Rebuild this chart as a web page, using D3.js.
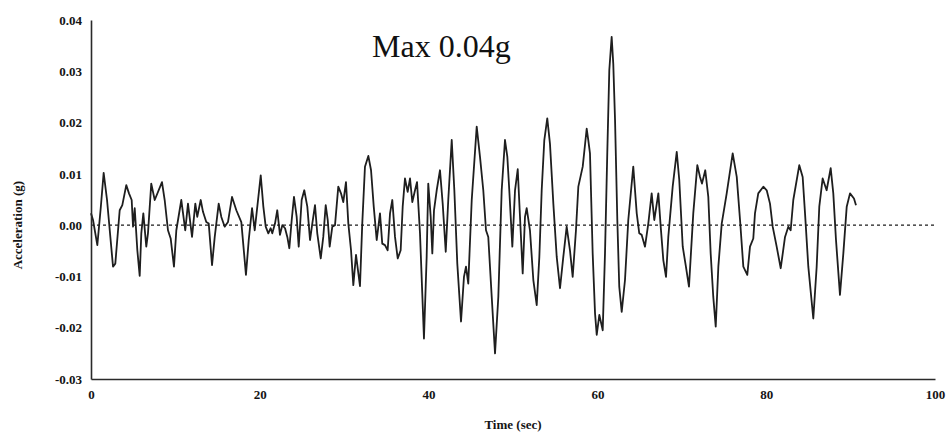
<!DOCTYPE html>
<html>
<head>
<meta charset="utf-8">
<script src="https://cdn.jsdelivr.net/npm/d3@7"></script>
<style>
  html, body { margin: 0; padding: 0; background: #ffffff; }
  svg { display: block; }
  .tick text { font-family: "Liberation Serif", "Times New Roman", serif; font-weight: bold; font-size: 13px; fill: #151515; }
</style>
</head>
<body>
<svg id="chart" width="951" height="436"></svg>
<script>
// Ground acceleration record (time in seconds, acceleration in g)
const timeSec = [
  0.00, 0.24, 0.75, 1.15, 1.50, 1.90, 2.61, 2.88, 3.40, 3.71, 4.18, 4.50, 4.82, 4.98, 5.18, 5.49, 5.77, 5.96, 6.20, 6.55,
  6.75, 7.14, 7.55, 8.41, 8.73, 9.12, 9.44, 9.83, 10.11, 10.70, 11.17, 11.49, 11.97, 12.36, 12.59, 13.00, 13.27, 13.66, 13.95, 14.34,
  14.66, 15.13, 15.44, 15.84, 16.23, 16.71, 17.22, 17.81, 18.36, 18.69, 19.08, 19.40, 20.11, 20.42, 20.70, 21.01, 21.29, 21.48, 21.80, 22.07,
  22.39, 22.67, 22.99, 23.26, 23.50, 23.78, 24.05, 24.37, 24.61, 24.96, 25.27, 25.63, 25.95, 26.22, 26.54, 26.81, 27.22, 27.52, 27.81, 28.05,
  28.28, 28.59, 28.91, 29.30, 29.62, 29.89, 30.21, 30.49, 30.81, 31.08, 31.40, 31.87, 32.14, 32.46, 32.86, 33.18, 33.50, 33.85, 34.24, 34.51,
  34.83, 35.15, 35.43, 35.70, 36.02, 36.34, 36.69, 36.93, 37.20, 37.52, 37.80, 38.07, 38.39, 38.63, 38.98, 39.25, 39.45, 39.77, 39.96, 40.25,
  40.44, 40.64, 40.96, 41.35, 41.67, 42.03, 42.33, 42.74, 43.05, 43.40, 43.84, 44.19, 44.43, 44.70, 45.11, 45.70, 46.09, 46.48, 46.80, 47.07,
  47.48, 47.87, 48.26, 48.66, 49.05, 49.33, 49.56, 49.92, 50.24, 50.56, 50.83, 51.15, 51.42, 51.62, 52.01, 52.41, 52.81, 53.12, 53.40, 53.71,
  54.06, 54.38, 54.78, 55.18, 55.57, 55.96, 56.36, 56.75, 57.07, 57.46, 57.74, 58.26, 58.73, 58.92, 59.12, 59.44, 59.72, 59.92, 60.23, 60.63,
  60.90, 61.17, 61.41, 61.69, 61.88, 62.09, 62.36, 62.59, 62.88, 63.27, 63.66, 64.25, 64.66, 64.96, 65.25, 65.64, 66.03, 66.43, 66.74, 67.22,
  67.50, 67.81, 68.13, 68.40, 68.92, 69.40, 69.70, 70.11, 70.46, 70.85, 71.36, 71.84, 72.16, 72.39, 72.78, 73.14, 73.42, 73.73, 74.02, 74.33,
  74.73, 75.32, 76.03, 76.51, 76.90, 77.29, 77.76, 78.08, 78.47, 78.67, 79.06, 79.66, 80.06, 80.45, 80.77, 81.24, 81.72, 82.23, 82.62, 82.90,
  83.21, 83.92, 84.32, 84.60, 84.99, 85.58, 85.98, 86.29, 86.69, 87.16, 87.64, 87.95, 88.27, 88.74, 89.14, 89.54, 89.93, 90.40, 90.64
];
const accelG = [
  0.0023, 0.0010, -0.0039, 0.0033, 0.0102, 0.0049, -0.0081, -0.0075, 0.0029, 0.0039, 0.0078, 0.0062, 0.0049, -0.0003, 0.0033, -0.0049, -0.0099, -0.0016, 0.0023, -0.0042,
  -0.0016, 0.0081, 0.0049, 0.0084, 0.0049, -0.0010, -0.0026, -0.0081, -0.0010, 0.0049, -0.0010, 0.0042, -0.0023, 0.0042, 0.0016, 0.0049, 0.0026, 0.0006, 0.0003, -0.0078,
  -0.0023, 0.0042, 0.0016, -0.0003, 0.0006, 0.0055, 0.0029, 0.0006, -0.0097, -0.0029, 0.0033, -0.0010, 0.0097, 0.0036, -0.0003, -0.0016, -0.0006, -0.0016, 0.0003, 0.0029,
  -0.0019, 0.0000, -0.0006, -0.0023, -0.0045, 0.0010, 0.0055, 0.0016, -0.0042, 0.0049, 0.0068, 0.0036, -0.0029, 0.0003, 0.0039, -0.0016, -0.0065, -0.0023, 0.0039, 0.0010,
  -0.0042, -0.0003, 0.0000, 0.0075, 0.0062, 0.0045, 0.0084, 0.0003, -0.0049, -0.0117, -0.0058, -0.0119, 0.0003, 0.0114, 0.0135, 0.0107, 0.0036, -0.0029, 0.0023, -0.0036,
  -0.0039, -0.0049, 0.0023, 0.0049, -0.0023, -0.0065, -0.0049, 0.0036, 0.0091, 0.0065, 0.0091, 0.0045, 0.0068, 0.0084, -0.0016, -0.0133, -0.0221, -0.0062, 0.0081, 0.0016,
  -0.0055, 0.0029, 0.0068, 0.0107, 0.0042, -0.0052, 0.0049, 0.0166, 0.0068, -0.0075, -0.0188, -0.0101, -0.0081, -0.0114, 0.0049, 0.0192, 0.0133, 0.0068, -0.0010, -0.0023,
  -0.0140, -0.0250, -0.0140, 0.0068, 0.0166, 0.0133, 0.0068, -0.0042, 0.0068, 0.0109, 0.0016, -0.0094, 0.0016, 0.0033, -0.0010, -0.0107, -0.0156, -0.0062, 0.0068, 0.0166,
  0.0208, 0.0159, 0.0042, -0.0062, -0.0123, -0.0062, -0.0003, -0.0049, -0.0101, -0.0010, 0.0075, 0.0114, 0.0188, 0.0166, 0.0140, -0.0055, -0.0172, -0.0214, -0.0175, -0.0205,
  -0.0055, 0.0140, 0.0302, 0.0367, 0.0315, 0.0205, 0.0010, -0.0120, -0.0169, -0.0107, 0.0010, 0.0114, 0.0023, -0.0016, -0.0019, -0.0042, 0.0003, 0.0062, 0.0010, 0.0062,
  -0.0003, -0.0068, -0.0101, -0.0023, 0.0075, 0.0143, 0.0088, -0.0042, -0.0078, -0.0120, 0.0023, 0.0117, 0.0094, 0.0081, 0.0107, 0.0055, -0.0055, -0.0140, -0.0198, -0.0081,
  0.0003, 0.0062, 0.0140, 0.0094, 0.0010, -0.0081, -0.0097, -0.0042, -0.0026, 0.0023, 0.0062, 0.0075, 0.0068, 0.0042, -0.0003, -0.0042, -0.0084, -0.0023, -0.0003, -0.0010,
  0.0049, 0.0117, 0.0094, 0.0023, -0.0081, -0.0182, -0.0081, 0.0036, 0.0091, 0.0068, 0.0111, 0.0062, -0.0029, -0.0136, -0.0055, 0.0036, 0.0062, 0.0052, 0.0039
];
const xTickValues = [0, 20, 40, 60, 80, 100];
const yTickValues = [-0.03, -0.02, -0.01, 0.00, 0.01, 0.02, 0.03, 0.04];
const xTitle = "Time (sec)";
const yTitle = "Acceleration (g)";
const noteText = "Max 0.04g";

const svg = d3.select("#chart");
const plot = { left: 91, right: 935, top: 20, bottom: 379 };

const x = d3.scaleLinear().domain([0, 100]).range([plot.left, plot.right]);
const y = d3.scaleLinear().domain([-0.03, 0.04]).range([plot.bottom, plot.top]);

// zero reference line
svg.append("line")
  .attr("x1", x(0)).attr("x2", x(100))
  .attr("y1", y(0)).attr("y2", y(0))
  .attr("stroke", "#1c1c1c")
  .attr("stroke-width", 1.4)
  .attr("stroke-dasharray", "3,3");

// acceleration trace
const series = timeSec.map((t, i) => ({ t, a: accelG[i] }));
const line = d3.line().x(d => x(d.t)).y(d => y(d.a));
svg.append("path")
  .datum(series)
  .attr("d", line)
  .attr("fill", "none")
  .attr("stroke", "#1e1e1e")
  .attr("stroke-width", 1.8)
  .attr("stroke-linejoin", "round");

// axes
const xAxis = d3.axisBottom(x).tickValues(xTickValues).tickSize(0).tickPadding(11).tickFormat(d3.format("d"));
const yAxis = d3.axisLeft(y).tickValues(yTickValues).tickSize(0).tickPadding(9).tickFormat(d => d.toFixed(2));

const gx = svg.append("g").attr("transform", `translate(0,${plot.bottom})`).call(xAxis);
const gy = svg.append("g").attr("transform", `translate(${plot.left},0)`).call(yAxis);
[gx, gy].forEach(g => g.select(".domain").attr("stroke", "#2a2a2a").attr("stroke-width", 1.6));

// axis titles
svg.append("text")
  .attr("x", 513).attr("y", 429)
  .attr("text-anchor", "middle")
  .attr("font-family", "Liberation Serif, Times New Roman, serif")
  .attr("font-weight", "bold")
  .attr("font-size", 13)
  .attr("fill", "#151515")
  .text(xTitle);

svg.append("text")
  .attr("transform", `translate(22,${y(0.0)}) rotate(-90)`)
  .attr("text-anchor", "middle")
  .attr("font-family", "Liberation Serif, Times New Roman, serif")
  .attr("font-weight", "bold")
  .attr("font-size", 13)
  .attr("fill", "#151515")
  .text(yTitle);

// peak annotation
svg.append("text")
  .attr("x", 372).attr("y", 57)
  .attr("font-family", "Liberation Serif, Times New Roman, serif")
  .attr("font-size", 32)
  .attr("fill", "#111111")
  .text(noteText);
</script>
</body>
</html>
